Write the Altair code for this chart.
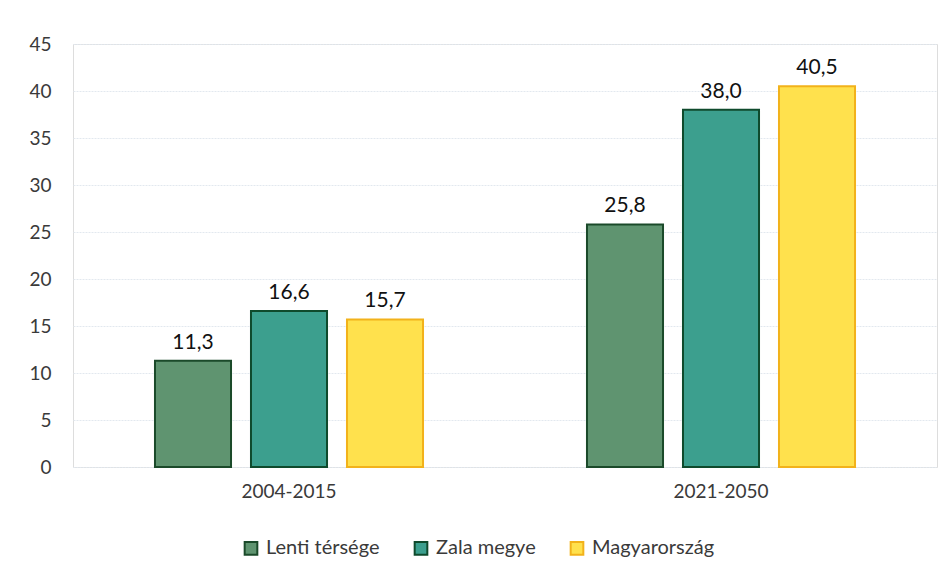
import altair as alt
import pandas as pd

periods = ["2004-2015", "2021-2050"]
series = ["Lenti térsége", "Zala megye", "Magyarország"]
lenti = [11.3, 25.8]
zala = [16.6, 38.0]
magyar = [15.7, 40.5]

fills = ["#5f9470", "#3c9f8e", "#ffe14d"]
strokes = ["#1b4a2a", "#0f4a2c", "#f2b21b"]

rows = []
for i, p in enumerate(periods):
    for s, vals in zip(series, [lenti, zala, magyar]):
        rows.append({"period": p, "series": s, "value": vals[i]})
df = pd.DataFrame(rows)

FONT = "Lato"
TXT = "#3a3a3a"

x = alt.X("period:N", sort=periods,
          scale=alt.Scale(paddingInner=0, paddingOuter=0),
          axis=alt.Axis(title=None, labelAngle=0, ticks=False, domain=False,
                        labelFontSize=19, labelColor=TXT, labelPadding=15,
                        labelFont=FONT))
xo = alt.XOffset("series:N", sort=series,
                 scale=alt.Scale(paddingInner=0.208, paddingOuter=0.854))
y = alt.Y("value:Q", scale=alt.Scale(domain=[0, 45], nice=False),
          axis=alt.Axis(title=None, values=list(range(0, 50, 5)), ticks=False,
                        domain=False, labelFontSize=19, labelColor=TXT,
                        labelPadding=22, labelFont=FONT, gridColor="#e2e8ef",
                        gridWidth=1, gridDash=[2, 1]))

bars = alt.Chart(df).mark_bar(strokeWidth=2).encode(
    x=x, xOffset=xo, y=y,
    color=alt.Color("series:N", sort=series,
                    scale=alt.Scale(domain=series, range=fills),
                    legend=alt.Legend(title=None, orient="none", direction="horizontal",
                                      legendX=168, legendY=494, labelFontSize=20,
                                      labelFont=FONT, labelColor=TXT,
                                      symbolType="square", symbolSize=160,
                                      symbolStrokeWidth=2, columnPadding=30,
                                      labelOffset=5)),
    stroke=alt.Stroke("series:N", sort=series,
                      scale=alt.Scale(domain=series, range=strokes), legend=None),
)

labels = alt.Chart(df).transform_calculate(
    lab="replace(format(datum.value, '.1f'), '.', ',')"
).mark_text(dy=-18, fontSize=21, font=FONT, color="#111111").encode(
    x=x, xOffset=xo, y=y, text="lab:N"
)

chart = alt.layer(bars, labels).properties(
    width=864, height=423,
    autosize=alt.AutoSizeParams(type="none"),
    padding={"left": 65, "top": 36, "right": 7, "bottom": 106},
).configure_view(stroke=None).configure(background="#ffffff")

chart.save("out.html", embed_options={"renderer": "svg", "actions": False})
